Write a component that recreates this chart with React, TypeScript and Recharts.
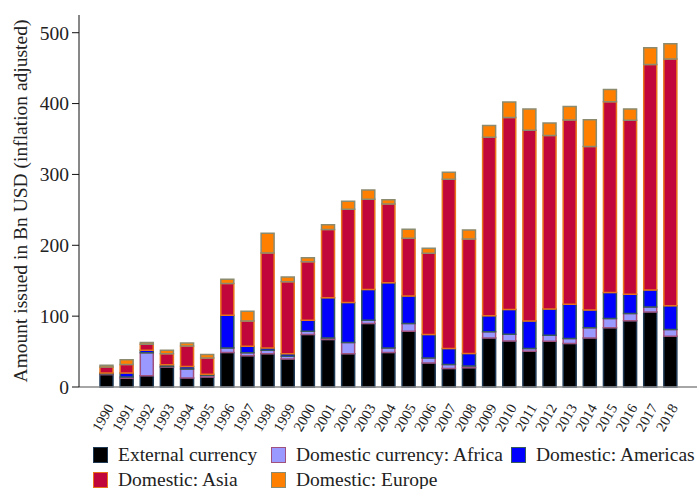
import React from "react";
import { Bar, BarChart, Legend, XAxis, YAxis } from "recharts";

const years = [
  "1990", "1991", "1992", "1993", "1994", "1995", "1996", "1997", "1998", "1999",
  "2000", "2001", "2002", "2003", "2004", "2005", "2006", "2007", "2008", "2009",
  "2010", "2011", "2012", "2013", "2014", "2015", "2016", "2017", "2018",
];

const externalCurrency = [
  17.5, 12.5, 16, 28, 12.7, 14, 48.6, 44, 47, 39.6, 74, 67, 47, 89.6, 48.6, 78.8, 34, 26, 27,
  69.3, 65, 50.5, 64.6, 61.3, 69.3, 83.5, 93.4, 106, 71.7,
];
const domesticAfrica = [
  1, 1.5, 32.5, 1, 12.8, 2.5, 6.6, 4.5, 5, 3.8, 4.8, 2.3, 15.7, 4.7, 6.6, 10.8, 7, 5.6, 2.7,
  8.5, 9.5, 3.7, 8.4, 7, 14.2, 13.2, 10.4, 7, 9.3,
];
const domesticAmericas = [
  1.3, 5.8, 3.5, 2.5, 3.5, 1.5, 46, 9, 3, 3.6, 15.5, 56.5, 56.6, 43.4, 92, 38.7, 33, 22.6, 17.5,
  22.7, 35, 39, 37, 48.6, 25, 36.8, 27, 23.8, 33.6,
];
const domesticAsia = [
  8.5, 11.8, 8.4, 15.5, 29, 23, 45, 35.5, 134, 101.6, 82.5, 96.6, 131.7, 127.3, 111, 81.7, 114.7,
  239, 161.5, 252, 271, 269, 245, 260, 231, 269, 245.7, 318.2, 348.4,
];
const domesticEurope = [
  2.4, 7, 2.3, 5, 4, 5, 6, 14, 28, 6.6, 5.5, 6.6, 11, 13, 6, 12.6, 7, 10, 13, 16.5, 21.7, 30,
  17.6, 19, 37.5, 17.4, 16, 23.8, 21.4,
];

const yTicks = [0, 100, 200, 300, 400, 500];

const series = [
  { key: "external", name: "External currency", fill: "#000000", stroke: "#1f3a55" },
  { key: "africa", name: "Domestic currency: Africa", fill: "#9999ff", stroke: "#a0527f" },
  { key: "americas", name: "Domestic: Americas", fill: "#0000ff", stroke: "#375a5a" },
  { key: "asia", name: "Domestic: Asia", fill: "#c0063a", stroke: "#e8731a" },
  { key: "europe", name: "Domestic: Europe", fill: "#ff8000", stroke: "#8b8b70" },
];

const data = years.map((year, i) => ({
  year,
  external: externalCurrency[i],
  africa: domesticAfrica[i],
  americas: domesticAmericas[i],
  asia: domesticAsia[i],
  europe: domesticEurope[i],
}));

const FONT = "Liberation Serif, serif";

function YearTick({ x, y, payload }: any) {
  return (
    <text
      x={x + 4}
      y={y + 10}
      transform={`rotate(-60, ${x + 4}, ${y + 10})`}
      textAnchor="end"
      dominantBaseline="central"
      fontSize={14.5}
      style={{ fontFamily: FONT }}
      fill="#222"
    >
      {payload.value}
    </text>
  );
}

function LegendBox() {
  const cols = ["178px", "240px", "auto"];
  return (
    <div
      style={{
        display: "grid",
        gridTemplateColumns: cols.join(" "),
        rowGap: 8,
        paddingLeft: 93,
        paddingTop: 7,
        fontFamily: FONT,
        fontSize: 19.5,
        color: "#222",
        lineHeight: "17px",
      }}
    >
      {series.map((s) => (
        <div key={s.key} style={{ display: "flex", alignItems: "center", whiteSpace: "nowrap" }}>
          <span
            style={{
              display: "inline-block",
              width: 13,
              height: 14,
              background: s.fill,
              border: `1.5px solid ${s.stroke}`,
              marginRight: 10,
            }}
          />
          {s.name}
        </div>
      ))}
    </div>
  );
}

export default function App() {
  return (
    <div style={{ width: 699, height: 489, background: "#fff" }}>
      <style>{`body{margin:0}`}</style>
      <BarChart
        width={699}
        height={489}
        data={data}
        margin={{ top: 15, right: 2, left: 0, bottom: 0 }}
        barSize={13}
      >
        <XAxis
          dataKey="year"
          interval={0}
          tickLine={false}
          tick={<YearTick />}
          height={52}
          padding={{ left: 17, right: 17 }}
          stroke="#888"
          strokeWidth={1.5}
        />
        <YAxis
          domain={[0, 525]}
          ticks={yTicks}
          width={79}
          tickSize={7}
          tickMargin={3}
          stroke="#111"
          tick={{ fontSize: 19.5, style: { fontFamily: FONT }, fill: "#222" }}
          label={{
            value: "Amount issued in Bn USD (inflation adjusted)",
            angle: -90,
            position: "insideLeft",
            offset: 20,
            style: { textAnchor: "middle", fontSize: 19.5, fontFamily: FONT, fill: "#222" },
          }}
        />
        <Legend verticalAlign="bottom" content={<LegendBox />} wrapperStyle={{ height: 50 }} />
        {series.map((s) => (
          <Bar
            key={s.key}
            dataKey={s.key}
            name={s.name}
            stackId="total"
            fill={s.fill}
            stroke={s.stroke}
            strokeWidth={1.5}
            isAnimationActive={false}
          />
        ))}
      </BarChart>
    </div>
  );
}
